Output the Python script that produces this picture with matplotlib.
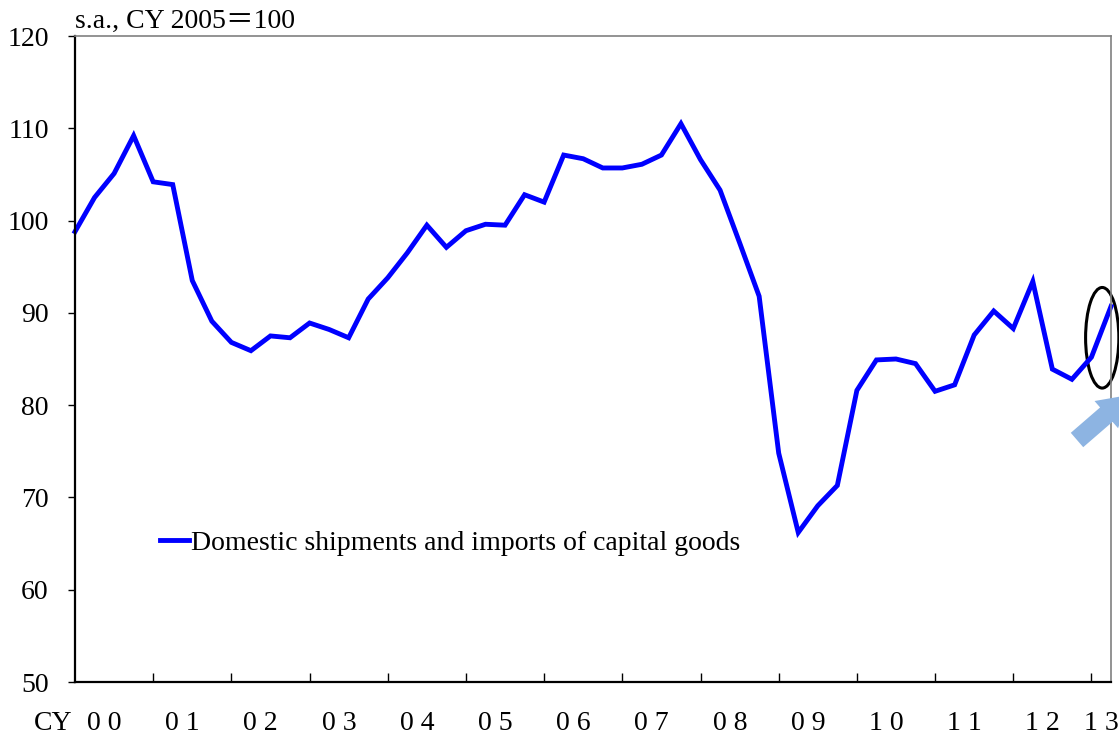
import matplotlib.pyplot as plt
from matplotlib.patches import Ellipse, FancyArrow
from matplotlib.transforms import IdentityTransform, offset_copy

plt.rcParams['font.family'] = ['Liberation Serif', 'Noto Sans CJK JP']
plt.rcParams['font.size'] = 20

# quarterly index, 2000Q1 - 2013Q2
values = [98.8, 102.5, 105.1, 109.2,
          104.2, 103.9, 93.5, 89.1,
          86.8, 85.9, 87.5, 87.3,
          88.9, 88.2, 87.3, 91.5,
          93.8, 96.5, 99.5, 97.1,
          98.9, 99.6, 99.5, 102.8,
          102.0, 107.1, 106.7, 105.7,
          105.7, 106.1, 107.1, 110.5,
          106.6, 103.3, 97.6, 91.8,
          74.8, 66.2, 69.1, 71.3,
          81.6, 84.9, 85.0, 84.5,
          81.5, 82.2, 87.6, 90.2,
          88.3, 93.4, 83.9, 82.8,
          85.2, 90.7]
year_labels = ['0 0', '0 1', '0 2', '0 3', '0 4', '0 5', '0 6', '0 7',
               '0 8', '0 9', '1 0', '1 1', '1 2', '1 3']
series_name = 'Domestic shipments and imports of capital goods'

x = list(range(len(values)))

fig = plt.figure(figsize=(11.19, 7.36), dpi=100)
ax = fig.add_axes([75 / 1119, 54 / 736, 1036 / 1119, 646 / 736])

ax.plot(x, values, color='#0000ff', lw=3.5, solid_joinstyle='miter',
        label=series_name, clip_on=False)

ax.set_xlim(0, len(values) - 1)
ax.set_ylim(50, 120)
ax.set_yticks(range(50, 121, 10))

# year ticks at each Q1, labels centred on each year
ax.set_xticks(list(range(4, len(values), 4)))
ax.tick_params(axis='x', which='major', direction='in', length=6.5, width=1,
               labelbottom=False)
lab_pos = [min(4 * k + 1.5, (4 * k + len(values) - 1) / 2) for k in range(len(year_labels))]
ax.set_xticks(lab_pos, minor=True)
ax.set_xticklabels(year_labels, minor=True)
ax.tick_params(axis='x', which='minor', length=0, pad=21)
ax.tick_params(axis='y', direction='out', length=5, width=1, pad=14)

for s in ['left', 'bottom']:
    ax.spines[s].set_linewidth(1.6)
    ax.spines[s].set_color('black')
for s in ['top', 'right']:
    ax.spines[s].set_linewidth(1.2)
    ax.spines[s].set_color('#808080')

ax.text(-0.04, 0, 'CY', ha='left', va='top',
        transform=offset_copy(ax.transAxes, fig=fig, y=-21, units='points'))
fig.text(75 / 1119, 1 - 21 / 736, 's.a., CY 2005＝100', ha='left', va='center')

ax.legend(loc='center left', bbox_to_anchor=(0.082, 0.215), frameon=False,
          handlelength=1.05, handletextpad=0.05, borderpad=0, borderaxespad=0)

ell = Ellipse((52.55, 87.3), 1.7, 10.9, fill=False, ec='black', lw=2.2, clip_on=False)
ax.add_patch(ell)

arrow = FancyArrow(1077, 736 - 440, 52, 45, width=19, head_width=36, head_length=30,
                   length_includes_head=True, color='#8db4e2', lw=0,
                   transform=IdentityTransform())
fig.patches.append(arrow)

fig.savefig('out.png', dpi=100)
